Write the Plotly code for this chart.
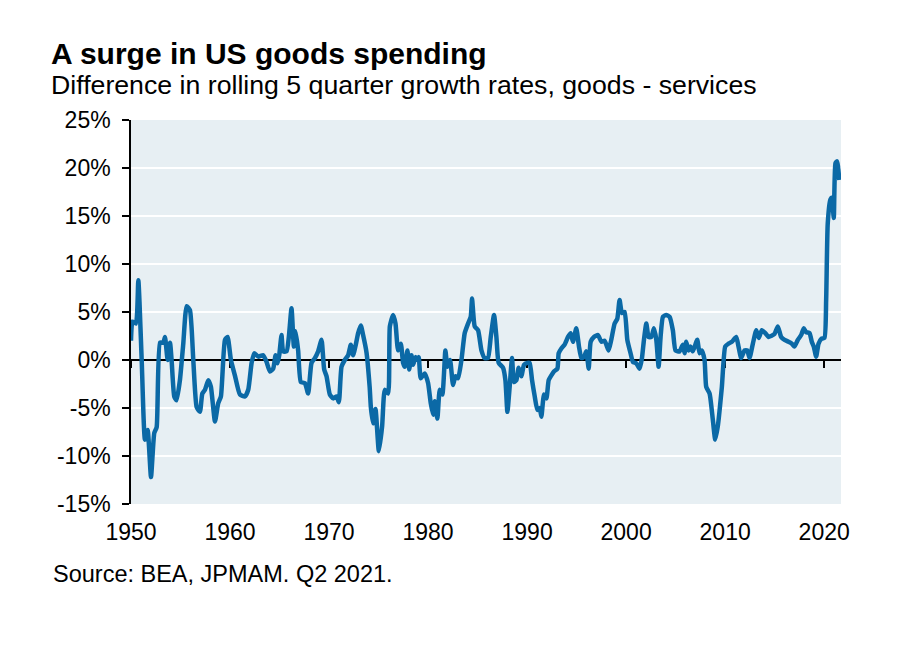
import plotly.graph_objects as go

title = "A surge in US goods spending"
subtitle = "Difference in rolling 5 quarter growth rates, goods - services"
source = "Source: BEA, JPMAM. Q2 2021."

years = [
    1950.0, 1950.15, 1950.5, 1950.74, 1951.08, 1951.41, 1951.68, 1952.02, 1952.35, 1952.59,
    1952.93, 1953.26, 1953.43, 1953.70, 1953.94, 1954.10, 1954.37, 1954.60, 1954.94, 1955.28,
    1955.62, 1955.95, 1956.29, 1956.63, 1956.96, 1957.20, 1957.47, 1957.80, 1958.07, 1958.48,
    1958.81, 1959.08, 1959.49, 1959.75, 1960.09, 1960.49, 1961.00, 1961.50, 1961.84, 1962.18,
    1962.44, 1962.85, 1963.35, 1963.69, 1964.03, 1964.36, 1964.60, 1964.80, 1964.97, 1965.20,
    1965.37, 1965.71, 1965.94, 1966.21, 1966.45, 1966.62, 1966.88, 1967.15, 1967.56, 1967.89,
    1968.23, 1968.57, 1968.90, 1969.24, 1969.51, 1969.75, 1970.08, 1970.42, 1970.76, 1970.99,
    1971.26, 1971.59, 1971.93, 1972.20, 1972.43, 1972.70, 1972.94, 1973.21, 1973.44, 1973.78,
    1974.10, 1974.22, 1974.45, 1974.69, 1975.03, 1975.36, 1975.63, 1975.97, 1976.14, 1976.47,
    1976.71, 1976.97, 1977.25, 1977.48, 1977.65, 1977.92, 1978.09, 1978.32, 1978.49, 1978.73,
    1978.93, 1979.06, 1979.26, 1979.67, 1980.00, 1980.27, 1980.51, 1980.68, 1980.94, 1981.18,
    1981.44, 1981.75, 1981.95, 1982.22, 1982.52, 1982.76, 1983.03, 1983.37, 1983.70, 1984.04,
    1984.31, 1984.44, 1984.71, 1985.05, 1985.39, 1985.72, 1986.05, 1986.33, 1986.66, 1986.90,
    1987.13, 1987.57, 1987.81, 1988.01, 1988.24, 1988.48, 1988.68, 1988.92, 1989.15, 1989.42,
    1989.69, 1990.03, 1990.26, 1990.50, 1990.77, 1991.04, 1991.27, 1991.44, 1991.71, 1991.95,
    1992.18, 1992.45, 1992.71, 1993.06, 1993.19, 1993.46, 1993.79, 1994.13, 1994.40, 1994.63,
    1994.97, 1995.24, 1995.48, 1995.74, 1995.98, 1996.22, 1996.42, 1996.75, 1997.16, 1997.50,
    1997.83, 1998.23, 1998.50, 1998.84, 1999.11, 1999.34, 1999.58, 1999.85, 2000.12, 2000.45,
    2000.69, 2001.03, 2001.36, 2001.60, 2001.80, 2002.04, 2002.27, 2002.54, 2002.81, 2003.05,
    2003.28, 2003.48, 2003.72, 2004.05, 2004.39, 2004.72, 2004.99, 2005.40, 2005.73, 2005.90,
    2006.07, 2006.31, 2006.51, 2006.74, 2007.18, 2007.42, 2007.65, 2007.92, 2008.09, 2008.43,
    2008.76, 2009.00, 2009.26, 2009.67, 2010.01, 2010.34, 2010.68, 2011.12, 2011.35, 2011.62,
    2011.96, 2012.23, 2012.46, 2012.80, 2013.14, 2013.40, 2013.70, 2014.05, 2014.38, 2014.65,
    2014.98, 2015.32, 2015.66, 2016.00, 2016.40, 2016.74, 2017.00, 2017.34, 2017.68, 2017.94,
    2018.18, 2018.52, 2018.75, 2018.95, 2019.19, 2019.43, 2019.70, 2020.03, 2020.20, 2020.36,
    2020.63, 2020.77, 2020.97, 2021.14, 2021.30, 2021.53,
]

diff_pct = [
    2.0, 4.0, 3.8, 8.3, 0.0, -8.3, -7.3, -12.2, -7.6, -7.0,
    1.8, 1.8, 2.4, 0.0, 1.8, 0.0, -3.8, -4.2, -2.1, 1.7,
    5.6, 5.2, 0.0, -4.9, -5.4, -3.5, -3.1, -2.1, -2.8, -6.4,
    -4.5, -3.8, 2.1, 2.4, 0.0, -1.6, -3.6, -3.8, -3.1, -0.3,
    0.7, 0.35, 0.5, -0.2, -1.2, -0.9, 0.5, -0.35, 0.5, 2.6,
    0.9, 0.9, 2.4, 5.4, 1.4, 3.0, 1.0, -2.3, -2.4, -3.5,
    -0.3, 0.2, 0.9, 2.1, -1.0, -1.7, -3.6, -4.0, -3.8, -4.4,
    -0.7, 0.0, 0.5, 1.6, 0.5, 1.6, 2.8, 3.6, 2.6, 0.8,
    -2.8, -4.9, -6.6, -5.1, -9.5, -6.9, -3.1, -3.5, 3.5, 4.7,
    3.8, 1.0, 1.7, -0.3, -0.7, 1.0, -1.0, 0.5, -0.5, 0.3,
    0.0, 0.3, -1.9, -1.4, -2.4, -4.5, -5.7, -4.3, -6.1, -3.1,
    -3.6, 1.0, -0.7, 0.0, -2.6, -1.7, -1.9, 0.0, 2.8, 3.8,
    4.5, 6.4, 3.5, 3.1, 1.0, 0.2, 0.2, 2.4, 4.7, 2.4,
    -0.3, -0.8, -2.1, -5.4, -2.8, 0.2, -2.3, -2.1, -0.8, -1.7,
    -0.5, -0.3, -0.3, -2.1, -3.8, -5.2, -5.0, -5.9, -3.6, -4.0,
    -2.1, -1.6, -1.2, -0.9, 0.7, 1.2, 1.6, 2.4, 2.8, 1.9,
    3.3, 1.4, 0.2, 0.3, 0.9, -0.9, 1.9, 2.4, 2.6, 1.9,
    2.0, 1.0, 2.1, 3.8, 4.3, 6.25, 4.9, 5.0, 2.1, 0.7,
    -0.2, -0.35, -0.9, 0.2, 2.1, 3.8, 2.4, 2.4, 3.3, 2.1,
    -0.7, 2.4, 4.5, 4.7, 4.5, 3.1, 1.0, 0.9, 1.6, 0.7,
    1.9, 1.0, 1.4, 0.9, 2.1, 0.7, 1.0, 0.0, -2.8, -3.5,
    -6.25, -8.3, -6.9, -2.8, 1.4, 1.7, 1.9, 2.4, 1.4, 0.2,
    1.0, 1.0, 0.2, 1.7, 3.1, 2.3, 3.1, 2.8, 2.4, 2.5,
    2.7, 3.5, 2.4, 2.1, 1.9, 1.7, 1.4, 2.1, 2.6, 3.3,
    2.9, 2.8, 1.9, 1.4, 0.35, 1.7, 2.2, 2.3, 6.25, 14.2,
    16.7, 16.9, 14.8, 20.5, 20.7, 18.75,
]

x_tick_vals = [1950, 1960, 1970, 1980, 1990, 2000, 2010, 2020]
x_tick_text = ["1950", "1960", "1970", "1980", "1990", "2000", "2010", "2020"]
y_tick_vals = [-15, -10, -5, 0, 5, 10, 15, 20, 25]
y_tick_text = ["-15%", "-10%", "-5%", "0%", "5%", "10%", "15%", "20%", "25%"]

FONT = "Liberation Sans, Arial, sans-serif"
LINE_COLOR = "#0b69a6"

fig = go.Figure()
fig.add_trace(go.Scatter(
    x=years, y=diff_pct, mode="lines",
    line=dict(color=LINE_COLOR, width=4.5, shape="spline", smoothing=0.5),
    showlegend=False, hoverinfo="skip",
))
# helper trace bound to the zero-line axis
fig.add_trace(go.Scatter(
    x=years, y=diff_pct, xaxis="x2", mode="lines",
    line=dict(color="rgba(0,0,0,0)", width=0),
    showlegend=False, hoverinfo="skip",
))

x_range = [1950, 2021.7]

fig.update_layout(
    width=900, height=653,
    margin=dict(l=131, r=59, t=120, b=149),
    paper_bgcolor="white",
    plot_bgcolor="#e7eff3",
    font=dict(family=FONT, size=23, color="black"),
    xaxis=dict(
        range=x_range, tickvals=x_tick_vals, ticktext=x_tick_text,
        showgrid=False, showline=False, zeroline=False, ticks="",
        tickfont=dict(size=23), ticklabelstandoff=12,
    ),
    xaxis2=dict(
        range=x_range, overlaying="x", anchor="free", position=0.375,
        tickvals=x_tick_vals, showticklabels=False,
        showgrid=False, zeroline=False,
        showline=True, linecolor="black", linewidth=1.5,
        ticks="outside", ticklen=7, tickcolor="black", tickwidth=1.5,
        layer="below traces",
    ),
    yaxis=dict(
        range=[-15, 25], tickvals=y_tick_vals, ticktext=y_tick_text,
        showgrid=True, gridcolor="white", gridwidth=2,
        zeroline=False, showline=True, linecolor="black", linewidth=1.5,
        ticks="outside", ticklen=7, tickcolor="black", tickwidth=1.5,
        tickfont=dict(size=23), ticklabelstandoff=7,
    ),
    annotations=[
        dict(text="<b>" + title + "</b>", xref="paper", yref="paper",
             x=-0.1155, y=1.172, xanchor="left", yanchor="middle",
             showarrow=False, font=dict(size=30, family=FONT)),
        dict(text=subtitle, xref="paper", yref="paper",
             x=-0.1155, y=1.092, xanchor="left", yanchor="middle",
             showarrow=False, font=dict(size=26.7, family=FONT)),
        dict(text=source, xref="paper", yref="paper",
             x=-0.112, y=-0.182, xanchor="left", yanchor="middle",
             showarrow=False, font=dict(size=23.5, family=FONT)),
    ],
)

fig.write_html("out.html", config={"displayModeBar": False},
               post_script="document.body.style.margin='0';")
